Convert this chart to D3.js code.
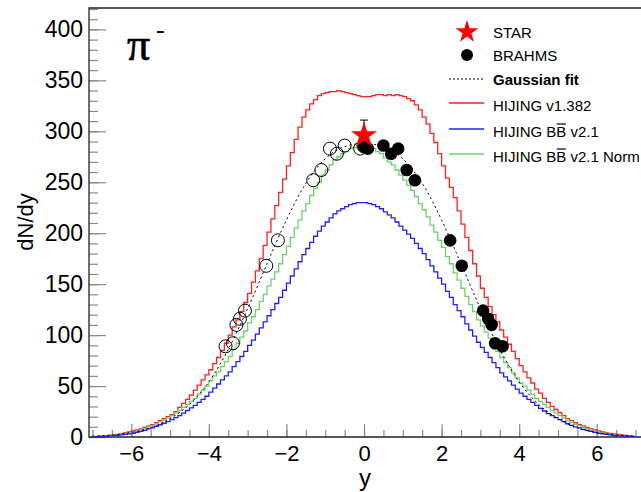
<!DOCTYPE html>
<html><head><meta charset="utf-8">
<script src="https://cdn.jsdelivr.net/npm/d3@7"></script>
<style>body{margin:0;background:#fff;} svg{display:block;}</style>
</head><body>
<svg id="c" width="641" height="492"></svg>
<script>
// ---------- data ----------
const binStart = -7.0, binWidth = 0.1;
const hijing1382 = [
  0.3,0.5,0.8,1.0,1.5,2,2.5,3,4,5,
  6,7,8,9.5,11,12,14,16,18,20,
  22,25,29,33,37,41,46,51,56,61,
  66,72,78,85,92,100,108,115,123,132,
  141,152,163,175,188,201,214,227,240,253,
  266,279,292,304,314,321,327,331,335,337,
  338,339,339,340,339,338,337,336,335,334,
  334,334,335,336,336,335,336,335,336,335,
  334,332,330,326,321,314,307,298,289,278,
  266,254,245,235,222,209,196,183,170,158,
  146,137,128,120,113,105,98,91,84,77,
  70,64,58,53,47,43,38,34,30,27,
  24,21,18,16,14,12,11,9.5,8,7,
  6,5,4,3.5,3,2.5,2,1.5,1,0.5];
const hijingBB = [
  0.2,0.3,0.5,0.7,1,1.2,1.5,2,2.5,3,
  3.5,4.5,5.5,6.5,8,9,10.5,12,13.5,15,
  17,19,21,23.5,26,28.5,31,34,37,40,
  44,48,52,56,60,64,69,74,79,84,
  90,95,101,107,113,119,125,131,137,144,
  151,158,165,172,179,185,191,197,202,207,
  211,215,219,222,224,226,228,229,230,230,
  230,229,228,226,224,221,218,215,211,207,
  203,199,195,190,185,180,174,168,162,156,
  150,143,137,130,124,118,111,105,99,93,
  88,83,78,73,68,63,59,55,51,47,
  43,40,37,34,31,28,25.5,23,21,19,
  17,15,13,11.5,10,9,7.5,6.5,5.5,4.5,
  3.5,3,2.5,2,1.5,1.2,1,0.7,0.5,0.3];
const hijingBBNorm = [
  0.3,0.4,0.6,0.9,1.2,1.5,1.9,2.5,3.1,3.7,
  4.3,5.6,6.8,8.1,9.9,11.2,13,14.9,16.7,18.6,
  21,23.6,26,29,32,35,38,42,46,50,
  55,60,64,69,74,79,86,92,98,104,
  112,118,125,133,140,148,155,162,170,179,
  187,196,205,213,222,229,237,244,250,257,
  262,267,272,275,278,280,283,284,285,285,
  285,284,283,280,278,274,270,267,262,257,
  252,247,242,236,229,223,216,208,201,193,
  186,177,170,161,154,146,138,130,123,115,
  109,103,97,91,84,78,73,68,63,58,
  53,50,46,42,38,35,32,29,26,23.6,
  21,18.6,16,14.3,12.4,11.2,9.3,8.1,6.8,5.6,
  4.3,3.7,3.1,2.5,1.9,1.5,1.2,0.9,0.6,0.4];
const fitRapidity = [-7,-6.5,-6,-5.5,-5,-4.5,-4,-3.5,-3,-2.5,-2,-1.5,-1,-0.5,0,0.5,1,1.5,2,2.5,3,3.5,4,4.5,5,5.5,6,6.5,7];
const fitValues   = [0.8,2,4.5,9,18,32,54,86,126,170,213,249,273,285,288,285,273,249,213,170,126,86,54,32,18,9,4.5,2,0.8];
const brahmsRapidity = [0.0,0.1,0.5,0.7,0.88,1.1,1.31,2.22,2.52,3.07,3.2,3.29,3.38,3.57];
const brahmsValues   = [285,283,286,278,283,262,252,193,168,124,116,110,92,89];
const starRapidity = [0.0];
const starValues = [296];
const starErrUp = [15];
const xMajorTicks = [-6,-4,-2,0,2,4,6];
const yMajorTicks = [0,50,100,150,200,250,300,350,400];
const legendLabels = ["STAR","BRAHMS","Gaussian fit","HIJING v1.382","HIJING BB v2.1","HIJING BB v2.1 Norm"];

// ---------- layout ----------
const svg = d3.select("#c");
const L = 89, R = 641, T = 8, B = 437;
const x = d3.scaleLinear().domain([-7.09, 7.14]).range([L, R]);
const y = d3.scaleLinear().domain([0, 421]).range([B, T]);
const font = "'Liberation Sans', Arial, Helvetica, sans-serif";

svg.append("defs").append("clipPath").attr("id","clip")
  .append("rect").attr("x",L).attr("y",T).attr("width",R-L).attr("height",B-T);

// axes
const yMinor = d3.range(0, 421, 10);
const xMinor = d3.range(-7, 7.01, 0.5);
const gy = svg.append("g").attr("transform",`translate(${L},0)`);
gy.call(d3.axisLeft(y).tickValues(yMinor).tickSize(-9).tickFormat("").tickSizeOuter(0));
gy.select(".domain").remove();
const gy2 = svg.append("g").attr("transform",`translate(${L},0)`);
gy2.call(d3.axisLeft(y).tickValues(yMajorTicks).tickSize(-17).tickPadding(6).tickSizeOuter(0));
gy2.select(".domain").remove();
const gx = svg.append("g").attr("transform",`translate(0,${B})`);
gx.call(d3.axisBottom(x).tickValues(xMinor).tickSize(-7).tickFormat("").tickSizeOuter(0));
gx.select(".domain").remove();
const gx2 = svg.append("g").attr("transform",`translate(0,${B})`);
gx2.call(d3.axisBottom(x).tickValues(xMajorTicks).tickSize(-13).tickPadding(8).tickSizeOuter(0));
gx2.select(".domain").remove();
svg.selectAll(".tick line").attr("stroke","#8a8a8a").attr("stroke-width",1.2);
gy2.selectAll(".tick text").attr("font-family",font).attr("font-size",23).attr("fill","#000");
gx2.selectAll(".tick text").attr("font-family",font).attr("font-size",22).attr("fill","#000");

// frame
svg.append("path").attr("d",`M${R},${T}H${L}V${B}H${R}`).attr("fill","none").attr("stroke","#222").attr("stroke-width",1.3);

// titles
svg.append("text").attr("x",365).attr("y",486).attr("text-anchor","middle")
  .attr("font-family",font).attr("font-size",24).text("y");
svg.append("text").attr("transform","translate(33,222) rotate(-90)").attr("text-anchor","middle")
  .attr("font-family",font).attr("font-size",22).text("dN/dy");
svg.append("text").attr("x",127).attr("y",60).attr("font-family","'Liberation Serif','Times New Roman',serif")
  .attr("font-size",46).attr("stroke","#000").attr("stroke-width",0.6).text("π");
svg.append("text").attr("x",156).attr("y",38).attr("font-family","'Liberation Serif','Times New Roman',serif")
  .attr("font-size",26).text("-");

// histograms
const plot = svg.append("g").attr("clip-path","url(#clip)");
function histPts(vals){
  const pts = vals.map((v,i)=>[binStart + i*binWidth, v]);
  pts.push([binStart + vals.length*binWidth, vals[vals.length-1]]);
  return pts;
}
const stepLine = d3.line().x(d=>x(d[0])).y(d=>y(d[1])).curve(d3.curveStepAfter);
const series = [
  {vals: hijing1382, color:"#ff2020"},
  {vals: hijingBBNorm, color:"#70d070"},
  {vals: hijingBB, color:"#2020ff"}
];
series.forEach(s=>{
  plot.append("path").attr("d",stepLine(histPts(s.vals))).attr("fill","none")
    .attr("stroke",s.color).attr("stroke-width",1.3);
});

// gaussian fit
const fitLine = d3.line().x((d,i)=>x(fitRapidity[i])).y(d=>y(d)).curve(d3.curveMonotoneX);
plot.append("path").attr("d",fitLine(fitValues)).attr("fill","none").attr("stroke","#000")
  .attr("stroke-width",1).attr("stroke-dasharray","2,3");

// reflected BRAHMS (open)
plot.selectAll(".open").data(brahmsValues).join("circle")
  .attr("cx",(d,i)=>x(-brahmsRapidity[i])).attr("cy",d=>y(d)).attr("r",6.5)
  .attr("fill","none").attr("stroke","#000").attr("stroke-width",1);
// BRAHMS filled
plot.selectAll(".filled").data(brahmsValues).join("circle")
  .attr("cx",(d,i)=>x(brahmsRapidity[i])).attr("cy",d=>y(d)).attr("r",6.3).attr("fill","#000");

// STAR
starValues.forEach((v,i)=>{
  const cx = x(starRapidity[i]), cy = y(v), ty = y(v+starErrUp[i]);
  plot.append("line").attr("x1",cx).attr("x2",cx).attr("y1",cy).attr("y2",ty).attr("stroke","#000").attr("stroke-width",1);
  plot.append("line").attr("x1",cx-4).attr("x2",cx+4).attr("y1",ty).attr("y2",ty).attr("stroke","#000").attr("stroke-width",1);
  plot.append("path").attr("d",d3.symbol(d3.symbolStar,210)()).attr("transform",`translate(${cx},${cy})`).attr("fill","#ff0000");
});

// legend
const lx1 = 449, lx2 = 484, lmx = 467, ltx = 493;
const rows = [32,55,79,105,131,156];
const lg = svg.append("g").attr("font-family",font).attr("font-size",15);
lg.append("path").attr("d",d3.symbol(d3.symbolStar,160)()).attr("transform",`translate(${lmx},${rows[0]})`).attr("fill","#ff0000");
lg.append("circle").attr("cx",lmx).attr("cy",rows[1]).attr("r",6).attr("fill","#000");
lg.append("line").attr("x1",lx1).attr("x2",lx2).attr("y1",rows[2]).attr("y2",rows[2]).attr("stroke","#000").attr("stroke-dasharray","2,2");
const lcol = ["#ff2020","#2020ff","#70d070"];
[3,4,5].forEach((r,k)=>{
  lg.append("line").attr("x1",lx1).attr("x2",lx2).attr("y1",rows[r]-2).attr("y2",rows[r]-2).attr("stroke",lcol[k]).attr("stroke-width",1.5);
});
legendLabels.forEach((t,i)=>{
  const tx = lg.append("text").attr("x",ltx).attr("y",rows[i]+5.5).text(t);
  if(i===2) tx.attr("font-weight","bold");
  if(i>=4){
    const e = tx.node().getExtentOfChar(8);
    lg.append("line").attr("x1",e.x+0.5).attr("x2",e.x+e.width-0.5)
      .attr("y1",e.y+1.5).attr("y2",e.y+1.5).attr("stroke","#000").attr("stroke-width",1.2);
  }
});
</script>
</body></html>
